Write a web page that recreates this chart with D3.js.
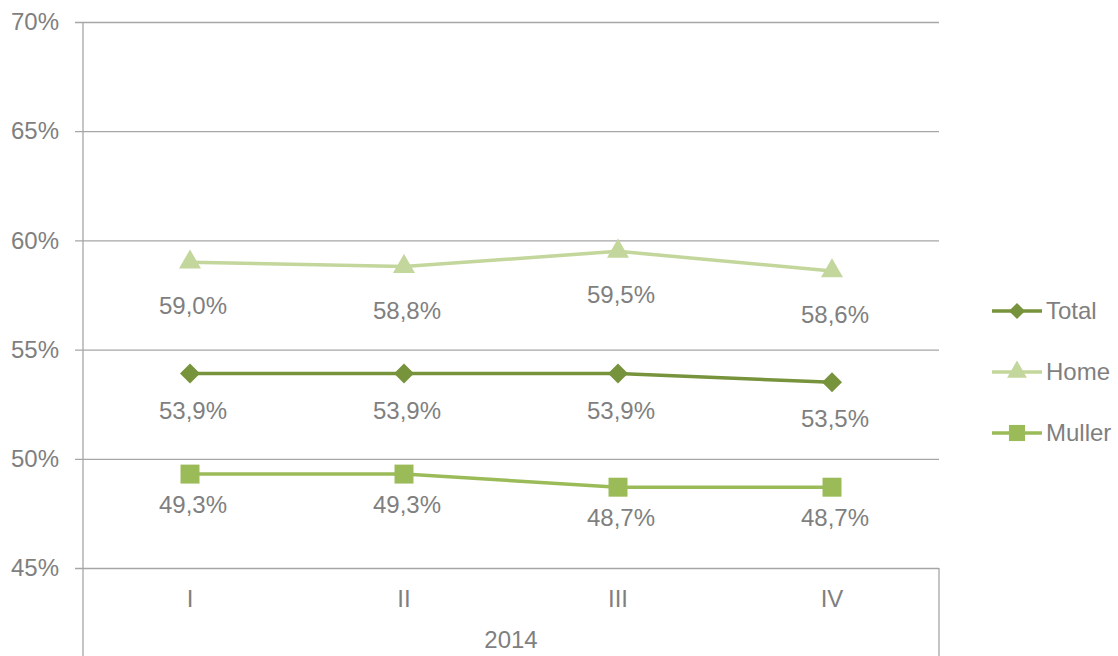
<!DOCTYPE html>
<html>
<head>
<meta charset="utf-8">
<script src="https://cdn.jsdelivr.net/npm/d3@7"></script>
<style>
  body { margin: 0; background: #fff; }
  text { font-family: "Liberation Sans", Arial, sans-serif; fill: #7f7f7f; }
</style>
</head>
<body>
<svg id="chart" width="1118" height="656"></svg>
<script>
// chart data
var quarters = ["I", "II", "III", "IV"];
var yearLabel = "2014";
var totalValues = [53.9, 53.9, 53.9, 53.5];
var homeValues = [59.0, 58.8, 59.5, 58.6];
var mullerValues = [49.3, 49.3, 48.7, 48.7];
var yTicks = [45, 50, 55, 60, 65, 70];

var series = [
  {name: "Total", values: totalValues, color: "#77933c", shape: d3.symbolSquare, rot: 45, size: 200, legSize: 130, labelDy: 45},
  {name: "Home", values: homeValues, color: "#c3d69b", shape: d3.symbolTriangle, rot: 0, size: 210, legSize: 170, labelDy: 52},
  {name: "Muller", values: mullerValues, color: "#9bbb59", shape: d3.symbolSquare, rot: 0, size: 360, legSize: 260, labelDy: 39}
];

var svg = d3.select("#chart");
var plotL = 83, plotR = 939, plotT = 22, plotB = 568;

var x = d3.scaleBand().domain(quarters).range([plotL, plotR]);
var y = d3.scaleLinear().domain([45, 70]).range([plotB, plotT]);

// grid lines + y labels
svg.append("g")
  .attr("transform", "translate(" + plotL + ",0)")
  .call(d3.axisLeft(y).tickValues(yTicks).tickSize(-(plotR - plotL)).tickSizeOuter(0).tickPadding(24)
    .tickFormat(function(d) { return d + "%"; }))
  .call(function(g) {
    g.select(".domain").remove();
    g.selectAll(".tick line").attr("stroke", "#a6a6a6").attr("stroke-width", 1.3).attr("x1", -8);
    g.selectAll(".tick text").style("font-size", "24px").attr("fill", "#7f7f7f");
  });

// axis lines
svg.append("line").attr("x1", plotL).attr("x2", plotL).attr("y1", plotT).attr("y2", 656)
  .attr("stroke", "#a6a6a6").attr("stroke-width", 1.3);
svg.append("line").attr("x1", plotR).attr("x2", plotR).attr("y1", plotB).attr("y2", 656)
  .attr("stroke", "#a6a6a6").attr("stroke-width", 1.3);

// category labels
svg.append("g").selectAll("text")
  .data(quarters)
  .enter().append("text")
  .attr("x", function(d) { return x(d) + x.bandwidth() / 2; })
  .attr("y", 607)
  .attr("text-anchor", "middle")
  .style("font-size", "24px")
  .text(function(d) { return d; });

svg.append("text")
  .attr("x", (plotL + plotR) / 2)
  .attr("y", 648)
  .attr("text-anchor", "middle")
  .style("font-size", "24px")
  .text(yearLabel);

var line = d3.line()
  .x(function(d, i) { return x(quarters[i]) + x.bandwidth() / 2; })
  .y(function(d) { return y(d); });

var fmt = function(v) { return v.toFixed(1).replace(".", ",") + "%"; };

series.forEach(function(s) {
  var g = svg.append("g");
  g.append("path")
    .datum(s.values)
    .attr("d", line)
    .attr("fill", "none")
    .attr("stroke", s.color)
    .attr("stroke-width", 3.5);

  g.selectAll(".pt")
    .data(s.values)
    .enter().append("path")
    .attr("transform", function(d, i) {
      return "translate(" + (x(quarters[i]) + x.bandwidth() / 2) + "," + y(d) + ") rotate(" + s.rot + ")";
    })
    .attr("d", d3.symbol().type(s.shape).size(s.size))
    .attr("fill", s.color);

  g.selectAll(".lbl")
    .data(s.values)
    .enter().append("text")
    .attr("x", function(d, i) { return x(quarters[i]) + x.bandwidth() / 2 + 3; })
    .attr("y", function(d) { return y(d) + s.labelDy; })
    .attr("text-anchor", "middle")
    .style("font-size", "24px")
    .text(fmt);
});

// legend
var legend = svg.append("g");
series.forEach(function(s, i) {
  var ly = 311 + i * 61;
  legend.append("line")
    .attr("x1", 992).attr("x2", 1042).attr("y1", ly).attr("y2", ly)
    .attr("stroke", s.color).attr("stroke-width", 3.5);
  legend.append("path")
    .attr("transform", "translate(1017," + ly + ") rotate(" + s.rot + ")")
    .attr("d", d3.symbol().type(s.shape).size(s.legSize))
    .attr("fill", s.color);
  legend.append("text")
    .attr("x", 1046).attr("y", ly + 8)
    .style("font-size", "24px")
    .text(s.name);
});
</script>
</body>
</html>
